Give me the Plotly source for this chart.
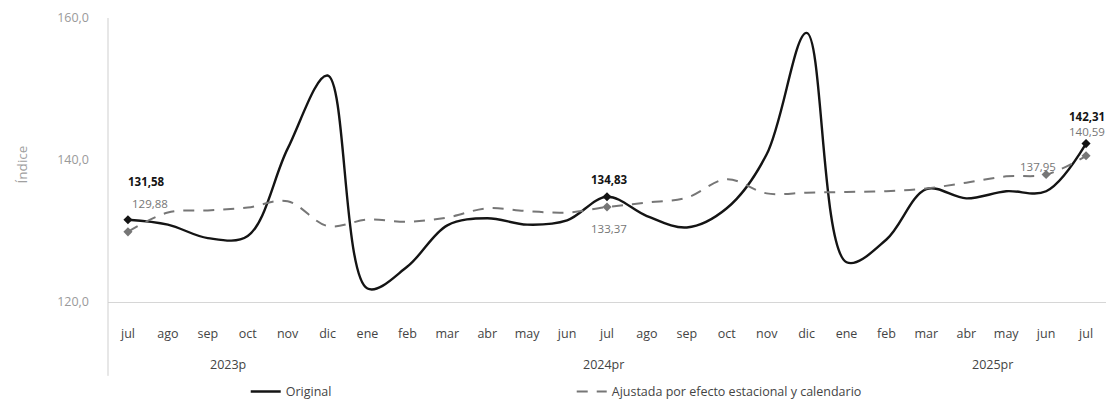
import plotly.graph_objects as go

months = ["jul", "ago", "sep", "oct", "nov", "dic", "ene", "feb", "mar", "abr", "may", "jun",
          "jul", "ago", "sep", "oct", "nov", "dic", "ene", "feb", "mar", "abr", "may", "jun", "jul"]
years = ["2023p", "2024pr", "2025pr"]
year_pos = [2.5, 11.9, 21.65]

original = [131.58, 130.9, 129.0, 129.3, 141.6, 151.9, 121.9, 125.0, 130.8, 131.8, 130.9, 131.5,
            134.83, 132.1, 130.5, 133.2, 140.8, 157.9, 125.6, 128.8, 135.9, 134.6, 135.6, 135.6, 142.31]
ajustada = [129.88, 132.6, 132.9, 133.3, 134.2, 130.7, 131.6, 131.3, 131.9, 133.2, 132.8, 132.6,
            133.37, 134.0, 134.7, 137.3, 135.3, 135.4, 135.5, 135.6, 136.0, 136.8, 137.7, 137.95, 140.59]

orig_marked = [0, 12, 24]
adj_marked = [0, 12, 23, 24]
orig_labels = {0: (19, 38), 12: (2, 17), 24: (1, 27)}
adj_labels = {0: (22, 28), 12: (2, -21), 23: (-8, 8), 24: (1, 24)}

x = list(range(len(months)))
FONT = "Open Sans"
BLACK = "#141414"
GRAY = "#767676"

fig = go.Figure()
fig.add_trace(go.Scatter(
    x=x, y=original, mode="lines", name="Original",
    line=dict(color=BLACK, width=2.4, shape="spline", smoothing=1.0),
))
fig.add_trace(go.Scatter(
    x=x, y=ajustada, mode="lines", name="Ajustada por efecto estacional y calendario",
    line=dict(color=GRAY, width=2, dash="11px,9px", shape="spline", smoothing=1.0),
))
fig.add_trace(go.Scatter(
    x=orig_marked, y=[original[i] for i in orig_marked], mode="markers", showlegend=False,
    marker=dict(symbol="diamond", color=BLACK, size=7),
))
fig.add_trace(go.Scatter(
    x=adj_marked, y=[ajustada[i] for i in adj_marked], mode="markers", showlegend=False,
    marker=dict(symbol="diamond", color=GRAY, size=7),
))

def fmt(v):
    return f"{v:.2f}".replace(".", ",")

annotations = []
for i, (dx, dy) in orig_labels.items():
    annotations.append(dict(x=i, y=original[i], xref="x", yref="y", text=f"<b>{fmt(original[i])}</b>",
                            showarrow=False, xshift=dx, yshift=dy,
                            font=dict(family=FONT, size=11.5, color=BLACK)))
for i, (dx, dy) in adj_labels.items():
    annotations.append(dict(x=i, y=ajustada[i], xref="x", yref="y", text=fmt(ajustada[i]),
                            showarrow=False, xshift=dx, yshift=dy,
                            font=dict(family=FONT, size=11.5, color=GRAY)))
for yl, xp in zip(years, year_pos):
    annotations.append(dict(x=xp, y=-0.221, xref="x", yref="paper", text=yl, showarrow=False,
                            yanchor="middle",
                            font=dict(family=FONT, size=12.5, color="#444444")))
annotations.append(dict(x=-0.086, y=0.485, xref="paper", yref="paper", text="Índice",
                        textangle=-90, showarrow=False, xanchor="center", yanchor="middle",
                        font=dict(family=FONT, size=13.5, color="#a0a0a0")))

fig.update_layout(
    width=1108, height=408,
    margin=dict(l=100, r=10, t=10, b=113),
    paper_bgcolor="white", plot_bgcolor="white",
    separators=",.",
    font=dict(family=FONT),
    annotations=annotations,
    shapes=[dict(type="line", xref="paper", yref="paper", x0=0, x1=0, y0=-0.26, y1=1,
                 line=dict(color="#cfcfcf", width=1))],
    showlegend=True,
    legend=dict(x=0.138, y=-0.312, xanchor="left", yanchor="middle", orientation="h",
                font=dict(family=FONT, size=12.5, color="#444444"), bgcolor="rgba(0,0,0,0)",
                entrywidth=281, entrywidthmode="pixels", itemwidth=30),
    xaxis=dict(range=[-0.5, 24.5], tickmode="array", tickvals=x, ticktext=months,
               showgrid=False, zeroline=False, showline=True, linecolor="#d6d6d6", linewidth=1,
               ticks="", ticklabelstandoff=20, automargin=False,
               tickfont=dict(family=FONT, size=12.5, color="#444444")),
    yaxis=dict(range=[120, 160], tickvals=[120, 140, 160], tickformat=".1f",
               showgrid=False, zeroline=False, showline=False,
               ticks="", ticklabelstandoff=18, automargin=False,
               tickfont=dict(family=FONT, size=12.5, color="#9a9a9a")),
)

fig.write_html("out.html")
